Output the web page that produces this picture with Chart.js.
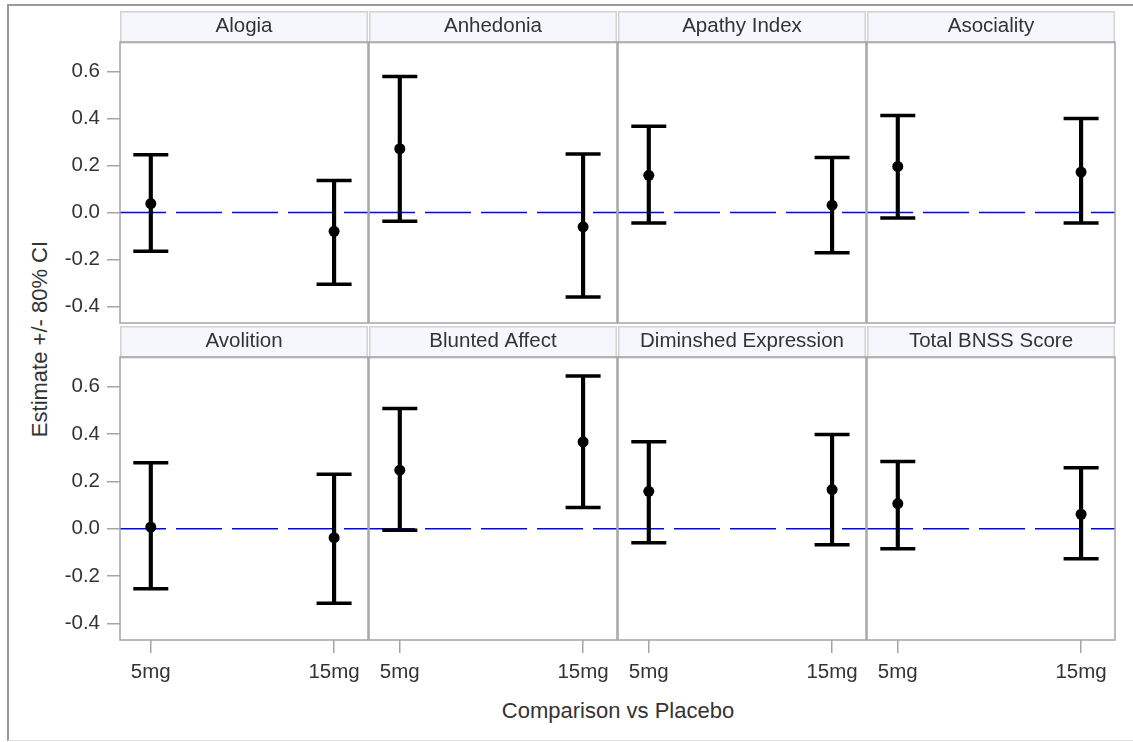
<!DOCTYPE html>
<html>
<head>
<meta charset="utf-8">
<script src="https://cdn.jsdelivr.net/npm/chart.js@4.4.0/dist/chart.umd.min.js"></script>
<style>
  body { margin: 0; background: #fff; }
  #page { position: relative; width: 1133px; height: 742px; overflow: hidden; font-family: "Liberation Sans", Arial, sans-serif; color: #333; }
  #frame { position: absolute; left: 7px; top: 4px; width: 1140px; height: 734px; border-left: 2px solid #9a9a9a; border-top: 2px solid #9a9a9a; border-bottom: 1px solid #e2e2e2; }
  canvas { position: absolute; }
  .axis-title { position: absolute; font-size: 22px; white-space: nowrap; line-height: 24px; }
  #xtitle { left: 318px; width: 600px; top: 699px; text-align: center; }
  #ytitle { left: 40px; top: 339px; transform: translate(-50%, -50%) rotate(-90deg); }
</style>
</head>
<body>
<div id="page">
  <div id="frame"></div>
  <div class="axis-title" id="ytitle">Estimate +/- 80% CI</div>
  <div class="axis-title" id="xtitle">Comparison vs Placebo</div>
</div>
<script>
// values
const panelNames = ['Alogia', 'Anhedonia', 'Apathy Index', 'Asociality',
                    'Avolition', 'Blunted Affect', 'Diminshed Expression', 'Total BNSS Score'];
const doses = ['5mg', '15mg'];
const estimate = [[0.038, -0.080], [0.271, -0.061], [0.158, 0.031], [0.196, 0.172],
                  [0.007, -0.038], [0.247, 0.367], [0.158, 0.165], [0.106, 0.061]];
const lower = [[-0.165, -0.305], [-0.037, -0.359], [-0.045, -0.171], [-0.023, -0.045],
               [-0.254, -0.315], [-0.007, 0.089], [-0.059, -0.068], [-0.085, -0.127]];
const upper = [[0.246, 0.136], [0.578, 0.249], [0.367, 0.234], [0.412, 0.400],
               [0.278, 0.230], [0.508, 0.645], [0.367, 0.398], [0.284, 0.257]];
const refValue = 0;

const font = 'Liberation Sans, Arial, sans-serif';
const textColor = '#333';
const lineGray = '#a4a4a4';
const xMin = -0.168, xMax = 1.185;
const yMin = -0.47, yMax = 0.725;

// panel grid in page pixels
const colLeft = [120, 369, 618, 867];
const colWidth = 248;
const headTop = [11, 326];

const panelLook = {
  id: 'panelLook',
  beforeDraw(chart) {
    const ctx = chart.ctx;
    const t = chart.titleBlock;
    ctx.save();
    ctx.fillStyle = '#f5f7fc';
    ctx.fillRect(t.left, t.top, t.width, t.height);
    ctx.strokeStyle = '#d2d2d2';
    ctx.lineWidth = 1.5;
    ctx.strokeRect(t.left + 0.75, t.top + 0.75, t.width - 1.5, t.height);
    ctx.restore();
  },
  afterDraw(chart) {
    const ctx = chart.ctx;
    const a = chart.chartArea;
    ctx.save();
    ctx.strokeStyle = lineGray;
    ctx.lineWidth = 1.5;
    ctx.strokeRect(a.left, a.top, a.right - a.left, a.bottom - a.top);
    ctx.restore();
  }
};

const page = document.getElementById('page');

panelNames.forEach((name, i) => {
  const r = Math.floor(i / 4), c = i % 4;
  const left = c === 0 ? 0 : colLeft[c] - 2;
  const right = colLeft[c] + colWidth + 2;
  const top = headTop[r] - 2;
  const bottom = r === 1 ? 700 : 325;

  const canvas = document.createElement('canvas');
  canvas.width = right - left;
  canvas.height = bottom - top;
  canvas.style.left = left + 'px';
  canvas.style.top = top + 'px';
  page.appendChild(canvas);

  const ci = doses.map((d, j) => ({ x: j, y: [lower[i][j], upper[i][j]] }));
  const caps = doses.flatMap((d, j) => [{ x: j, y: lower[i][j] }, { x: j, y: upper[i][j] }]);
  const means = doses.map((d, j) => ({ x: j, y: estimate[i][j] }));
  const ref = [{ x: xMin, y: refValue }, { x: xMax, y: refValue }];

  new Chart(canvas, {
    type: 'bar',
    data: {
      datasets: [
        { type: 'line', data: ref, borderColor: '#0000ff', borderWidth: 1.5, borderDash: [46, 10], pointRadius: 0, order: 4 },
        { type: 'bar', data: ci, backgroundColor: '#000', barThickness: 3.5, order: 3 },
        { type: 'scatter', data: caps, pointStyle: 'line', pointRadius: 17.5, borderColor: '#000', borderWidth: 3.5, order: 2 },
        { type: 'scatter', data: means, pointStyle: 'circle', pointRadius: 5.5, backgroundColor: '#000', borderWidth: 0, order: 1 }
      ]
    },
    options: {
      responsive: false,
      animation: false,
      layout: {
        autoPadding: false,
        padding: { left: c === 0 ? 0 : 2, right: 2, top: 2, bottom: r === 1 ? 0 : 2 }
      },
      plugins: {
        legend: { display: false },
        tooltip: { enabled: false },
        title: {
          display: true,
          text: name,
          fullSize: false,
          color: textColor,
          font: { family: font, size: 20.5, weight: 'normal', lineHeight: '21px' },
          padding: { top: 5, bottom: 5 }
        }
      },
      scales: {
        x: {
          type: 'linear',
          min: xMin,
          max: xMax,
          offset: false,
          display: r === 1,
          afterBuildTicks: s => { s.ticks = doses.map((d, j) => ({ value: j })); },
          afterFit: s => {
            s.paddingLeft = 0; s.paddingRight = 0;
            if (r === 1) s.height = 60;
          },
          grid: { drawOnChartArea: false, offset: false, tickLength: 13, color: lineGray, lineWidth: 1.5 },
          border: { display: false },
          ticks: {
            callback: v => doses[v],
            color: textColor,
            font: { family: font, size: 20.5 },
            padding: 7,
            maxRotation: 0,
            autoSkip: false
          }
        },
        y: {
          min: yMin,
          max: yMax,
          display: c === 0,
          afterFit: s => {
            s.paddingTop = 0; s.paddingBottom = 0;
            if (c === 0) s.width = 120;
          },
          grid: { drawOnChartArea: false, tickLength: 13, color: lineGray, lineWidth: 1.5 },
          border: { display: false },
          ticks: {
            stepSize: 0.2,
            includeBounds: false,
            color: textColor,
            font: { family: font, size: 20.5 },
            padding: 7,
            callback: v => (Math.abs(v) < 1e-9 ? 0 : v).toFixed(1)
          }
        }
      }
    },
    plugins: [panelLook]
  });
});
</script>
</body>
</html>
